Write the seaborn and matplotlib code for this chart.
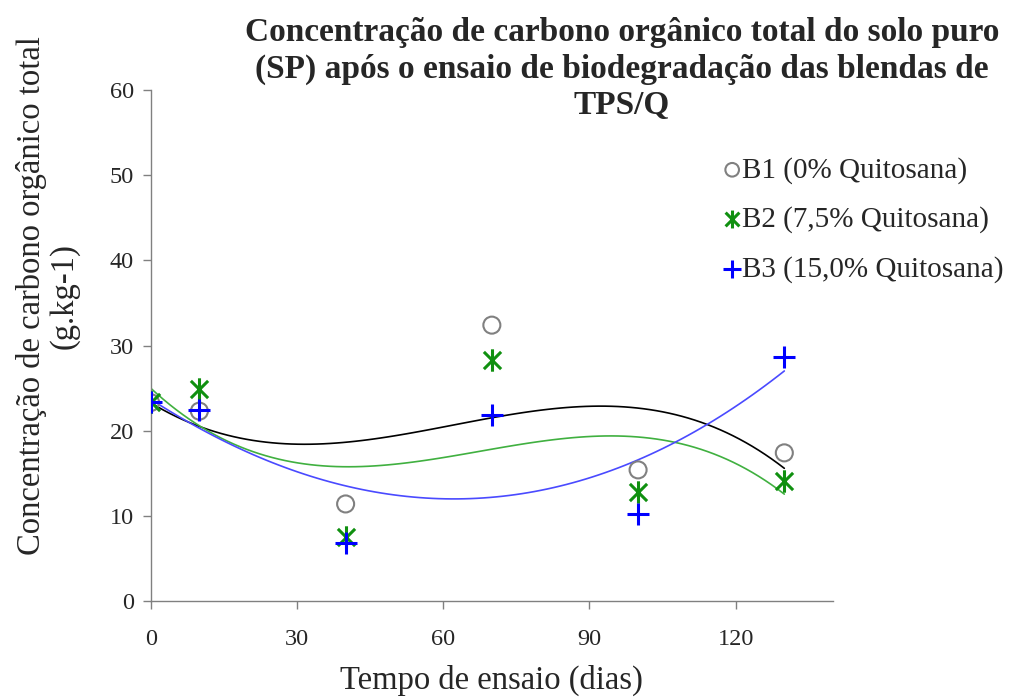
import numpy as np
import pandas as pd
import seaborn as sns
import matplotlib.pyplot as plt
from matplotlib.path import Path

# dados
dias = [0, 10, 40, 70, 100, 130]
b1 = [23.3, 22.3, 11.4, 32.4, 15.4, 17.4]
b2 = [23.4, 24.9, 7.5, 28.3, 12.8, 14.1]
b3 = [23.4, 22.4, 6.8, 21.9, 10.2, 28.6]
rotulos = ['B1 (0% Quitosana)', 'B2 (7,5% Quitosana)', 'B3 (15,0% Quitosana)']

sns.set_style('ticks')
plt.rcParams['font.family'] = ['Liberation Serif', 'DejaVu Serif']

# marcador asterisco (x + barra vertical) estilo Excel
asterisco = Path([(-1, -1), (1, 1), (-1, 1), (1, -1), (0, -1.3), (0, 1.3)],
                 [Path.MOVETO, Path.LINETO, Path.MOVETO, Path.LINETO, Path.MOVETO, Path.LINETO])

fig = plt.figure(figsize=(10.11, 6.97), dpi=100)
ax = fig.add_axes([0.149, 0.1377, 0.675, 0.733])

series = [
    (b1, 'o', '#808080', 'black', 'none'),
    (b2, asterisco, '#109010', '#40b040', None),
    (b3, '+', '#0000ff', '#4a4aff', None),
]

for (vals, mk, cor_pt, cor_ln, face), lab in zip(series, rotulos):
    df = pd.DataFrame({'dias': dias, 'c': vals})
    sns.regplot(data=df, x='dias', y='c', order=3, ci=None, scatter=False,
                line_kws={'color': cor_ln, 'lw': 1.2}, ax=ax)
    if mk == 'o':
        ax.scatter(df['dias'], df['c'], marker='o', s=150, facecolors='none',
                   edgecolors=cor_pt, linewidths=1.5, label=lab, zorder=3)
    else:
        ax.scatter(df['dias'], df['c'], marker=mk, s=260, color=cor_pt,
                   linewidths=2.2, label=lab, zorder=3)

ax.set_xlim(0, 140)
ax.set_ylim(0, 60)
ax.set_xticks([0, 30, 60, 90, 120])
ax.set_yticks(range(0, 61, 10))
ax.tick_params(labelsize=17.5, length=6, width=1, color='#808080', direction='out')
ax.tick_params(axis='x', pad=14)
ax.tick_params(axis='y', pad=6)
for s in ['top', 'right']:
    ax.spines[s].set_visible(False)
for s in ['left', 'bottom']:
    ax.spines[s].set_color('#808080')
    ax.spines[s].set_linewidth(1)

ax.set_xlabel('Tempo de ensaio (dias)', fontsize=23.5, labelpad=11)
ax.set_ylabel('Concentração de carbono orgânico total\n(g.kg-1)', fontsize=23.5,
              linespacing=1.1)
ax.yaxis.set_label_coords(80 / 1011, (697 - 296) / 697, transform=fig.transFigure)

fig.text(0.615, 0.976, 'Concentração de carbono orgânico total do solo puro\n'
         '(SP) após o ensaio de biodegradação das blendas de\nTPS/Q',
         ha='center', va='top', fontsize=24, fontweight='bold', linespacing=1.24)

leg = ax.legend(loc='upper left', bbox_to_anchor=(0.717, 0.775), bbox_transform=fig.transFigure,
                frameon=False, fontsize=21, handletextpad=0.08, handlelength=0.5,
                borderpad=0, borderaxespad=0, labelspacing=0.78, markerscale=0.8)

fig.savefig('out.png', dpi=100)
